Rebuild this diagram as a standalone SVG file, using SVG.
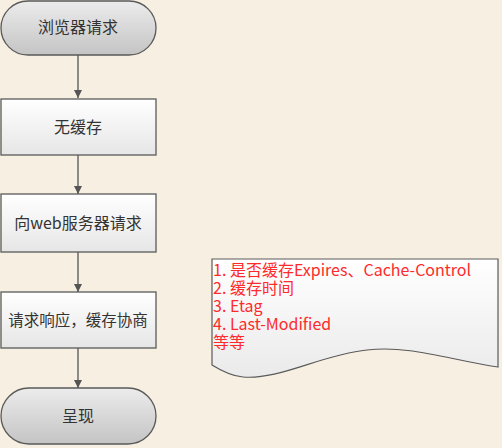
<svg xmlns="http://www.w3.org/2000/svg" width="502" height="448" viewBox="0 0 502 448">
<style>
.pill{fill:url(#gPill);stroke:#5a5a5a;stroke-width:1.3}
.box{fill:url(#gBox);stroke:#5a5a5a;stroke-width:1.3}
.t{font-family:"Microsoft YaHei","Noto Sans CJK SC",sans-serif;font-size:16px;fill:#333;text-anchor:middle}
.r{font-family:"Microsoft YaHei","Noto Sans CJK SC",sans-serif;font-size:16px;fill:#ff2a2a}
.c{stroke:#555;stroke-width:1.3;fill:none;marker-end:url(#arr)}
</style>
<defs>
<linearGradient id="gPill" x1="0" y1="0" x2="0" y2="1"><stop offset="0" stop-color="#ececec"/><stop offset="1" stop-color="#c4c4c4"/></linearGradient>
<linearGradient id="gBox" x1="0" y1="0" x2="0" y2="1"><stop offset="0" stop-color="#ffffff"/><stop offset="1" stop-color="#e6e6e6"/></linearGradient>
<linearGradient id="gDoc" x1="0" y1="0" x2="0" y2="1"><stop offset="0" stop-color="#ffffff"/><stop offset="1" stop-color="#eaeaea"/></linearGradient>
<marker id="arr" viewBox="0 0 10 10" refX="10" refY="5" markerWidth="8" markerHeight="8" markerUnits="userSpaceOnUse" orient="auto"><path d="M0,0 L10,5 L0,10 z" fill="#555"/></marker>
</defs>
<rect width="502" height="448" fill="#f6efe2"/>
<g id="connectors">
<line class="c" x1="78" y1="55" x2="78" y2="98"/>
<line class="c" x1="78" y1="155" x2="78" y2="194"/>
<line class="c" x1="78" y1="252" x2="78" y2="292"/>
<line class="c" x1="78" y1="348" x2="78" y2="388"/>
</g>
<g id="start">
<rect class="pill" x="1" y="1" width="155" height="54" rx="27" ry="27"/>
<text class="t" x="78" y="33">浏览器请求</text>
</g>
<g id="nocache">
<rect class="box" x="1" y="99" width="155" height="56"/>
<text class="t" x="78" y="133">无缓存</text>
</g>
<g id="request">
<rect class="box" x="1" y="194" width="155" height="58"/>
<text class="t" x="78" y="229">向web服务器请求</text>
</g>
<g id="response">
<rect class="box" x="1" y="292" width="155" height="56"/>
<text class="t" x="78" y="326" style="font-size:15.5px">请求响应，缓存协商</text>
</g>
<g id="end">
<rect class="pill" x="1" y="388" width="155" height="56" rx="28" ry="28"/>
<text class="t" x="78" y="422">呈现</text>
</g>
<g id="note">
<path d="M212,259 L498,259 L498,367 C450,360 410,345 367,350 C320,355 280,380 243,377 C230,376 220,370 212,365 Z" fill="url(#gDoc)" stroke="#5a5a5a" stroke-width="1.2"/>
<text class="r" x="213" y="275.5">1. 是否缓存Expires、Cache-Control<tspan x="213" dy="18">2. 缓存时间</tspan><tspan x="213" dy="18">3. Etag</tspan><tspan x="213" dy="18">4. Last-Modified</tspan><tspan x="213" dy="18">等等</tspan></text>
</g>
</svg>
